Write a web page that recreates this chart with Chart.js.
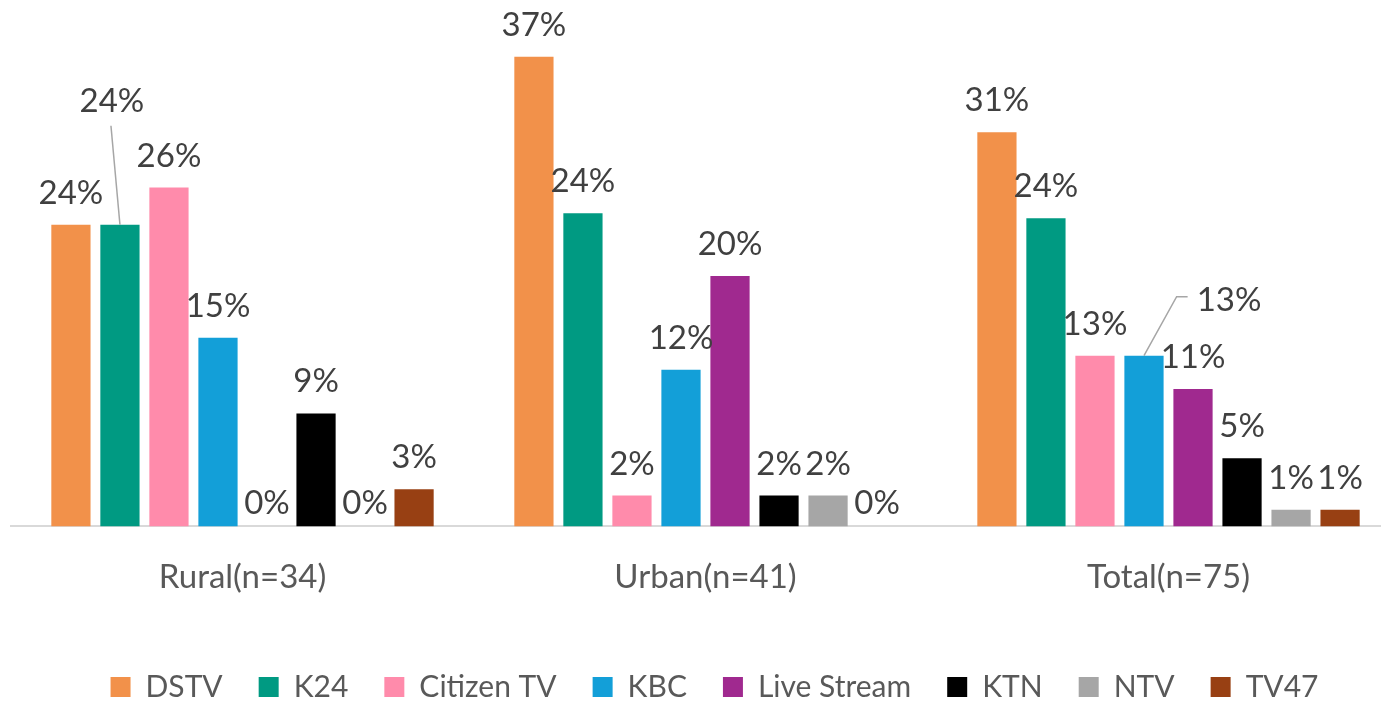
<!DOCTYPE html>
<html>
<head>
<meta charset="utf-8">
<script src="https://cdn.jsdelivr.net/npm/chart.js@4"></script>
<style>
  html, body { margin: 0; padding: 0; background: #fff; }
  #wrap { width: 1381px; height: 704px; overflow: hidden; position: relative; }
  #inner { width: 1400px; height: 740px; }
</style>
</head>
<body>
<div id="wrap"><div id="inner"><canvas id="myChart"></canvas></div></div>
<script>
const groups = ['Rural(n=34)', 'Urban(n=41)', 'Total(n=75)'];
const channels = ['DSTV', 'K24', 'Citizen TV', 'KBC', 'Live Stream', 'KTN', 'NTV', 'TV47'];
const colors = ['#F2914A', '#009A82', '#FF8BAB', '#139FD8', '#A0298F', '#000000', '#A6A6A6', '#984013'];

// percent per channel, one value per group (Rural, Urban, Total)
const dstv = [23.5, 36.6, 30.7];
const k24 = [23.5, 24.4, 24.0];
const citizen = [26.4, 2.4, 13.3];
const kbc = [14.7, 12.2, 13.3];
const liveStream = [0, 19.5, 10.7];
const ktn = [8.8, 2.4, 5.3];
const ntv = [0, 2.4, 1.3];
const tv47 = [2.9, 0, 1.3];

const seriesValues = [dstv, k24, citizen, kbc, liveStream, ktn, ntv, tv47];

// labels that were moved off their bar, with a leader line
const movedLabels = {
  '1-0': {dx: -8, dy: -92, kind: 'up'},
  '3-2': {dx: 85, dy: -24, kind: 'side'}
};

const labelFont = '33px Lato';

const valueLabels = {
  id: 'valueLabels',
  afterLayout(chart) {
    // nudge the legend a bit right, like the original
    chart.legend.left += 9;
    chart.legend.right += 9;
  },
  afterDatasetsDraw(chart) {
    const ctx = chart.ctx;
    ctx.save();
    ctx.font = labelFont;
    ctx.fillStyle = '#404040';
    ctx.textAlign = 'center';
    ctx.textBaseline = 'alphabetic';
    chart.data.datasets.forEach((ds, di) => {
      const meta = chart.getDatasetMeta(di);
      meta.data.forEach((bar, i) => {
        const v = ds.data[i];
        const text = Math.round(v) + '%';
        let x = bar.x;
        let y = bar.y - (v === 0 ? 12 : 21);
        const mv = movedLabels[di + '-' + i];
        if (mv) {
          x += mv.dx;
          y += mv.dy;
          const w = ctx.measureText(text).width;
          ctx.strokeStyle = '#A6A6A6';
          ctx.lineWidth = 1.5;
          ctx.beginPath();
          if (mv.kind === 'up') {
            ctx.moveTo(bar.x, bar.y);
            ctx.lineTo(x - 1, y + 14);
          } else {
            const left = x - w / 2;
            ctx.moveTo(bar.x, bar.y);
            ctx.lineTo(left - 20, y - 14);
            ctx.lineTo(left - 9, y - 14);
          }
          ctx.stroke();
        }
        ctx.fillText(text, x, y);
      });
    });
    ctx.restore();
  }
};

const data = {
  labels: groups,
  datasets: channels.map((name, k) => ({
    label: name,
    data: seriesValues[k],
    backgroundColor: colors[k],
    borderWidth: 0,
    categoryPercentage: 0.847,
    barPercentage: 0.8
  }))
};

const config = {
  type: 'bar',
  data: data,
  options: {
    responsive: true,
    maintainAspectRatio: false,
    animation: false,
    layout: {
      padding: {left: 11, right: 0, top: 13, bottom: 28}
    },
    plugins: {
      legend: {
        position: 'bottom',
        labels: {
          boxWidth: 20,
          boxHeight: 20,
          padding: 36,
          color: '#595959',
          font: {family: 'Lato', size: 30}
        }
      },
      tooltip: {enabled: false}
    },
    scales: {
      x: {
        grid: {display: false},
        border: {color: '#D9D9D9', width: 2},
        ticks: {
          color: '#595959',
          padding: 23,
          font: {family: 'Lato', size: 33}
        },
        afterFit(scale) {
          scale.height += 16;
        }
      },
      y: {
        display: false,
        min: 0,
        max: 40
      }
    }
  },
  plugins: [valueLabels]
};

var myChart = new Chart(document.getElementById('myChart'), config);
</script>
</body>
</html>
